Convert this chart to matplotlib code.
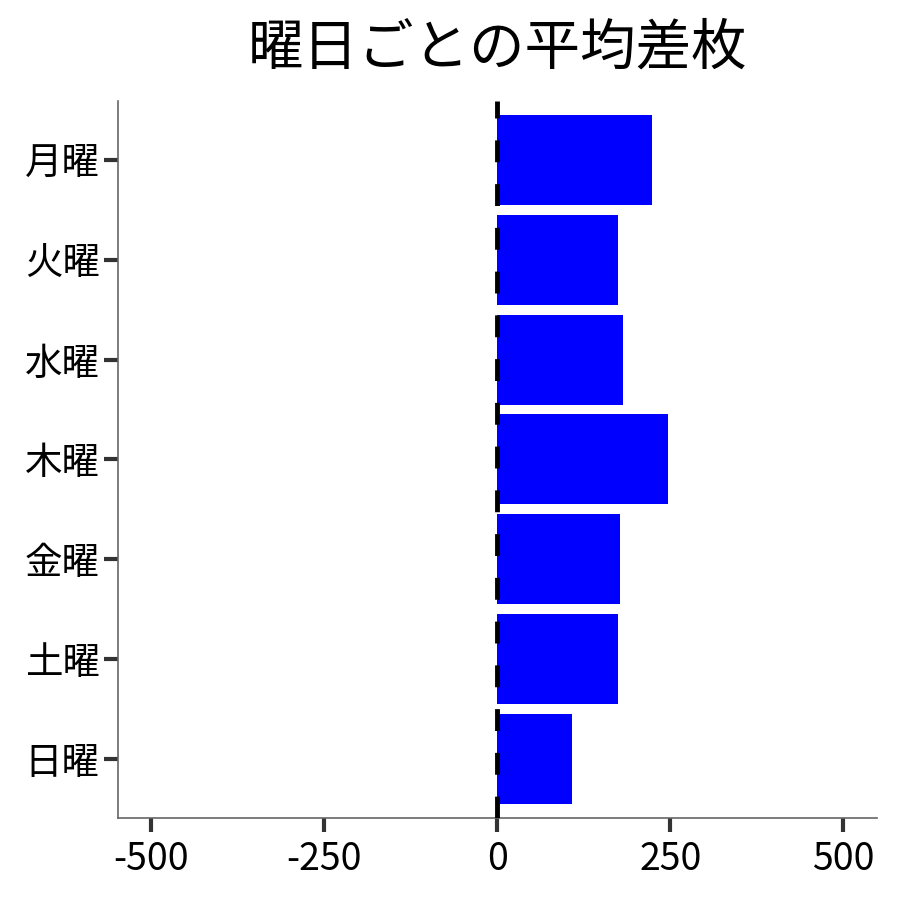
import matplotlib
matplotlib.use('Agg')
from matplotlib import pyplot as plt

plt.rcParams['font.family'] = ['Noto Sans CJK JP', 'DejaVu Sans']

# average difference per weekday
days = ['月曜', '火曜', '水曜', '木曜', '金曜', '土曜', '日曜']
avg_diff = [224, 174, 182, 246, 178, 174, 108]
xticks = [-500, -250, 0, 250, 500]

fig, ax = plt.subplots(figsize=(9, 9), dpi=100)
fig.subplots_adjust(left=0.131, right=0.974, top=0.888, bottom=0.091)

ax.barh(days, avg_diff, height=0.9, color='#0000ff', zorder=2)
ax.axvline(0, color='black', linestyle=(0, (4.5, 4.5)), linewidth=3.5, zorder=3)

ax.set_xlim(-548, 548)
ax.set_ylim(6.59, -0.59)
ax.set_xticks(xticks)
ax.set_xticklabels([str(v) for v in xticks])

ax.set_title('曜日ごとの平均差枚', fontsize=40, pad=26)

for side in ['top', 'right']:
    ax.spines[side].set_visible(False)
for side in ['left', 'bottom']:
    ax.spines[side].set_color('#666666')
    ax.spines[side].set_linewidth(1.2)

ax.tick_params(axis='both', length=10, width=3, color='#333333', labelsize=27)
ax.tick_params(axis='y', pad=3)
ax.tick_params(axis='x', pad=6)

fig.savefig('out.png')
